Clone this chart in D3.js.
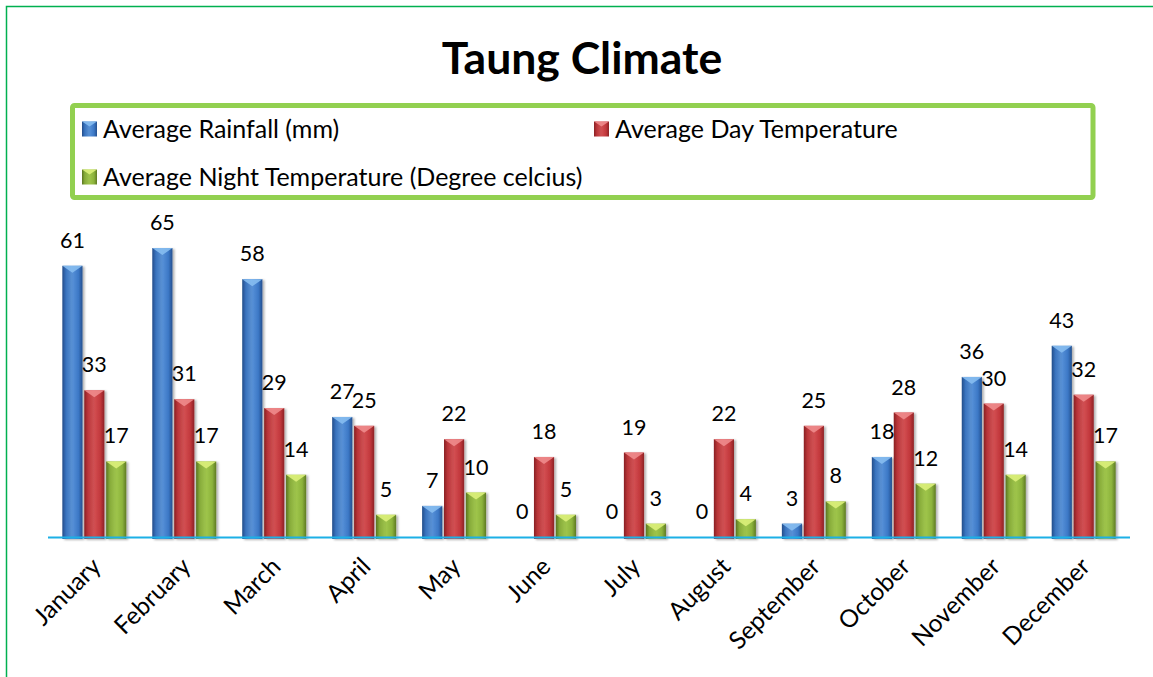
<!DOCTYPE html>
<html>
<head>
<meta charset="utf-8">
<script src="https://cdn.jsdelivr.net/npm/d3@7"></script>
<style>
  html, body { margin: 0; padding: 0; background: #fff; }
</style>
</head>
<body>
<div id="chart"></div>
<script>
// Datos del gráfico
const months = ["January", "February", "March", "April", "May", "June", "July",
                "August", "September", "October", "November", "December"];
const seriesNames = ["Average Rainfall (mm)", "Average Day Temperature",
                     "Average Night Temperature (Degree celcius)"];
const rainfall = [61, 65, 58, 27, 7, 0, 0, 0, 3, 18, 36, 43];
const dayTemp = [33, 31, 29, 25, 22, 18, 19, 22, 25, 28, 30, 32];
const nightTemp = [17, 17, 14, 5, 10, 5, 3, 4, 8, 12, 14, 17];

const seriesKeys = ["rain", "day", "night"];
const data = months.map((m, i) => ({ month: m, rain: rainfall[i], day: dayTemp[i], night: nightTemp[i] }));

// Colores (oscuro, claro, tapa)
const palette = {
  rain:  { dark: "#24508f", mid: "#3c78c6", light: "#5b95db", cap: "#86bdf0" },
  day:   { dark: "#8e2225", mid: "#c2383c", light: "#d65356", cap: "#ee8b8c" },
  night: { dark: "#5e7a22", mid: "#8cb33c", light: "#a3c94e", cap: "#dbef7a" }
};

const width = 1153;
const height = 677;
const marginLeft = 48;
const marginRight = 23;
const baseY = 537;

const font = "Lato, 'Open Sans', sans-serif";

const svg = d3.select("#chart")
  .append("svg")
    .attr("width", width)
    .attr("height", height)
    .attr("viewBox", [0, 0, width, height])
    .style("font-family", font);

const defs = svg.append("defs");

// Degradados horizontales para el efecto 3D
seriesKeys.forEach(k => {
  const c = palette[k];
  const g = defs.append("linearGradient")
      .attr("id", "grad-" + k)
      .attr("x1", "0%").attr("x2", "100%")
      .attr("y1", "0%").attr("y2", "0%");
  g.append("stop").attr("offset", "0%").attr("stop-color", c.dark);
  g.append("stop").attr("offset", "18%").attr("stop-color", c.mid);
  g.append("stop").attr("offset", "45%").attr("stop-color", c.light);
  g.append("stop").attr("offset", "80%").attr("stop-color", c.mid);
  g.append("stop").attr("offset", "100%").attr("stop-color", c.dark);
});

const shadow = defs.append("filter")
    .attr("id", "shadow")
    .attr("x", "-30%").attr("y", "-10%")
    .attr("width", "160%").attr("height", "130%");
shadow.append("feDropShadow")
    .attr("dx", 2).attr("dy", 1)
    .attr("stdDeviation", 1.2)
    .attr("flood-color", "#000")
    .attr("flood-opacity", 0.3);

// Borde exterior
svg.append("rect")
    .attr("x", 6.5).attr("y", 6.5)
    .attr("width", 1170).attr("height", 700)
    .attr("fill", "none")
    .attr("stroke", "#00b050")
    .attr("stroke-width", 1.5);

// Título
svg.append("text")
    .attr("x", 582)
    .attr("y", 74)
    .attr("text-anchor", "middle")
    .attr("font-size", 44.5)
    .attr("font-weight", "bold")
    .attr("fill", "#000")
    .text("Taung Climate");

// Escalas
const x0 = d3.scaleBand()
    .domain(months)
    .range([marginLeft, width - marginRight])
    .paddingInner(0.25)
    .paddingOuter(0.14);

const x1 = d3.scaleBand()
    .domain(seriesKeys)
    .range([0, x0.bandwidth()])
    .padding(0.08);

const y = d3.scaleLinear()
    .domain([0, 70])
    .range([baseY, baseY - 70 * 4.446]);

// Leyenda
const legend = svg.append("g");
legend.append("rect")
    .attr("x", 72.5).attr("y", 105.5)
    .attr("width", 1020.5).attr("height", 92)
    .attr("rx", 2)
    .attr("fill", "none")
    .attr("stroke", "#92d050")
    .attr("stroke-width", 5);

const legendPos = [[82, 129], [594, 129], [82, 177]];

function drawBlock(g, k, bx, by, bw, bh, capH) {
  const c = palette[k];
  g.append("rect")
      .attr("x", bx).attr("y", by)
      .attr("width", bw).attr("height", bh)
      .attr("fill", `url(#grad-${k})`);
  if (bh > 1) {
    const h = Math.min(capH, bh);
    g.append("path")
        .attr("d", `M${bx},${by}L${bx + bw},${by}L${bx + bw / 2},${by + h}Z`)
        .attr("fill", c.cap)
        .attr("opacity", 0.9);
    g.append("path")
        .attr("d", `M${bx},${by}L${bx + bw / 2},${by + h}L${bx + bw / 2},${by + bh}L${bx},${by + bh}Z`)
        .attr("fill", "#000")
        .attr("opacity", 0.04);
  }
}

seriesKeys.forEach((k, i) => {
  const [lx, ly] = legendPos[i];
  const item = legend.append("g");
  drawBlock(item, k, lx, ly - 7.5, 15, 15, 5);
  item.append("text")
      .attr("x", lx + 21)
      .attr("y", ly)
      .attr("dy", "0.36em")
      .attr("font-size", 25)
      .attr("fill", "#000")
      .text(seriesNames[i]);
});

// Barras
const groups = svg.append("g")
  .selectAll("g")
  .data(data)
  .join("g")
    .attr("transform", d => `translate(${x0(d.month)},0)`);

groups.each(function(d) {
  const g = d3.select(this);
  seriesKeys.forEach(k => {
    const v = d[k];
    if (v <= 0) return;
    const bar = g.append("g").attr("filter", "url(#shadow)");
    drawBlock(bar, k, x1(k), y(v), x1.bandwidth(), baseY + 2 - y(v), 7);
  });
});

// Etiquetas de datos
groups.each(function(d) {
  const g = d3.select(this);
  seriesKeys.forEach(k => {
    g.append("text")
        .attr("x", x1(k) + x1.bandwidth() / 2)
        .attr("y", y(d[k]) - 18)
        .attr("text-anchor", "middle")
        .attr("font-size", 21.5)
        .attr("fill", "#000")
        .text(d[k]);
  });
});

// Línea base
svg.append("line")
    .attr("x1", marginLeft)
    .attr("x2", width - marginRight)
    .attr("y1", baseY + 0.5)
    .attr("y2", baseY + 0.5)
    .attr("stroke", "#1cb0e6")
    .attr("stroke-width", 2);

// Etiquetas del eje X
svg.append("g")
  .selectAll("text")
  .data(months)
  .join("text")
    .attr("transform", d => `translate(${x0(d) + x0.bandwidth() / 2 + 8},568) rotate(-45)`)
    .attr("text-anchor", "end")
    .attr("font-size", 24.5)
    .attr("fill", "#000")
    .text(d => d);
</script>
</body>
</html>
